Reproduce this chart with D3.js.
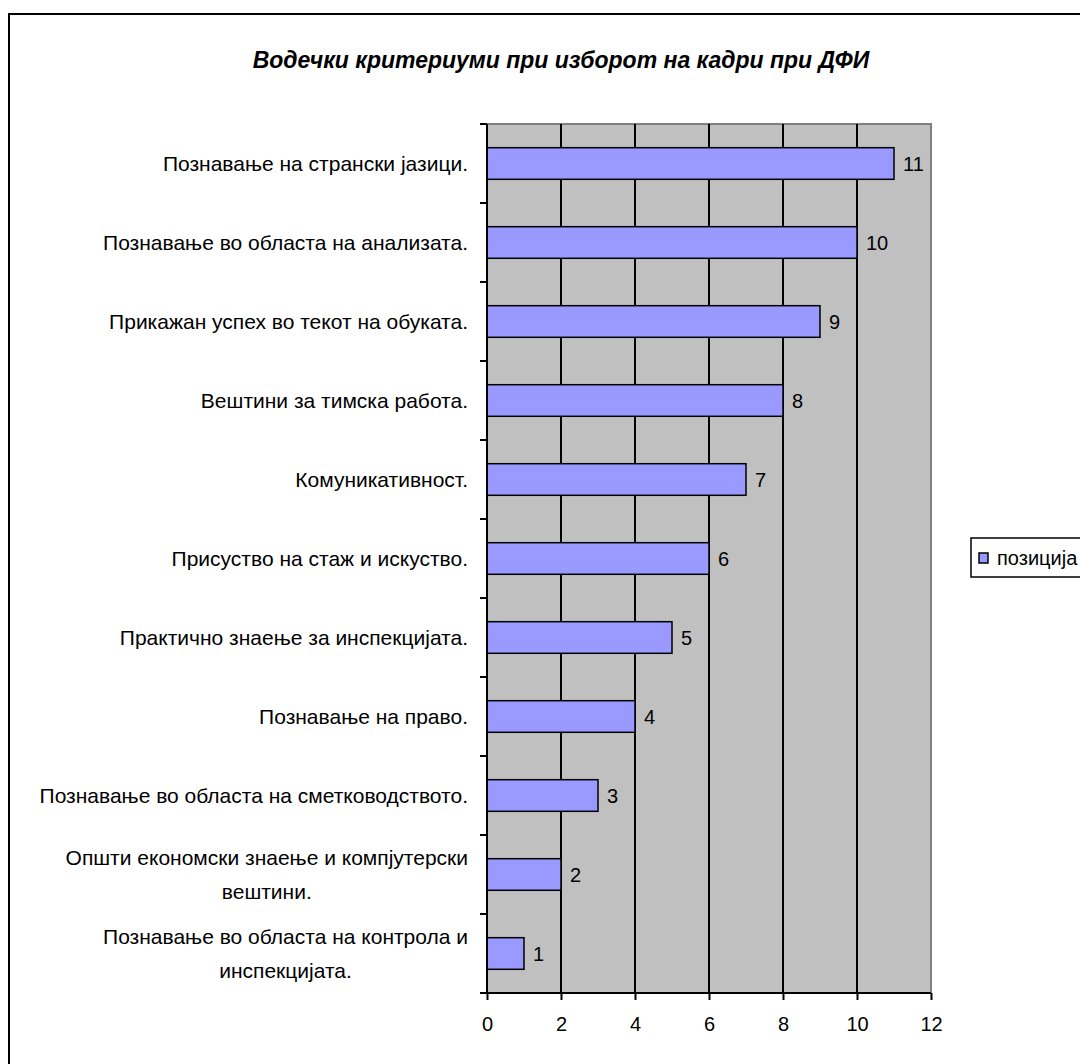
<!DOCTYPE html>
<html>
<head>
<meta charset="utf-8">
<script src="https://cdn.jsdelivr.net/npm/d3@7"></script>
<style>
  body { margin: 0; background: #fff; }
  svg { font-family: "Liberation Sans", Arial, sans-serif; }
</style>
</head>
<body>
<svg id="chart"></svg>
<script>
/** * * * * * DATA * * * * */
const categories = [
  ["Познавање на странски јазици."],
  ["Познавање во областа на анализата."],
  ["Прикажан успех во текот на обуката."],
  ["Вештини за тимска работа."],
  ["Комуникативност."],
  ["Присуство на стаж и искуство."],
  ["Практично знаење за инспекцијата."],
  ["Познавање на право."],
  ["Познавање во областа на сметководството."],
  ["Општи економски знаење и компјутерски", "вештини."],
  ["Познавање во областа на контрола и", "инспекцијата."]
];
const values = [11, 10, 9, 8, 7, 6, 5, 4, 3, 2, 1];
const xTicks = [0, 2, 4, 6, 8, 10, 12];
const seriesName = "позиција";
const title = "Водечки критериуми при изборот на кадри при ДФИ";

/** * * * * * CONSTANTS * * * * */
const width = 1080;
const height = 1064;
const plot = { left: 487, right: 931, top: 124, bottom: 993 };
const barColor = "#9999FF";

const svg = d3.select('#chart')
  .attr('width', width)
  .attr('height', height);

// outer chart border (runs past the picture edge)
svg.append('rect')
  .attr('x', 9).attr('y', 14)
  .attr('width', 1200).attr('height', 1200)
  .attr('fill', 'none')
  .attr('stroke', 'black')
  .attr('stroke-width', 2);

svg.append('text')
  .attr('x', 561)
  .attr('y', 68)
  .attr('text-anchor', 'middle')
  .style('font-size', '23px')
  .style('font-weight', 'bold')
  .style('font-style', 'italic')
  .text(title);

const keys = categories.map((c, i) => 'c' + i);

let xScale = d3.scaleLinear()
  .domain([0, 12])
  .range([plot.left, plot.right]);

let yScale = d3.scaleBand()
  .domain(keys)
  .range([plot.top, plot.bottom])
  .paddingInner(0.6)
  .paddingOuter(0.3);

// plot background
svg.append('rect')
  .attr('x', plot.left).attr('y', plot.top)
  .attr('width', plot.right - plot.left)
  .attr('height', plot.bottom - plot.top)
  .attr('fill', '#C0C0C0')
  .attr('stroke', '#808080')
  .attr('stroke-width', 2);

// vertical gridlines
svg.append('g')
  .selectAll('line')
  .data(xTicks.filter(d => d > 0 && d < 12))
  .enter()
  .append('line')
  .attr('x1', d => xScale(d)).attr('x2', d => xScale(d))
  .attr('y1', plot.top).attr('y2', plot.bottom)
  .attr('stroke', 'black')
  .attr('stroke-width', 2);

// bars
svg.append('g')
  .selectAll('rect')
  .data(values)
  .enter()
  .append('rect')
  .attr('x', xScale(0))
  .attr('y', (d, i) => yScale(keys[i]))
  .attr('width', d => xScale(d) - xScale(0))
  .attr('height', yScale.bandwidth())
  .attr('fill', barColor)
  .attr('stroke', 'black')
  .attr('stroke-width', 1.5);

// value labels
svg.append('g')
  .selectAll('text')
  .data(values)
  .enter()
  .append('text')
  .attr('x', d => xScale(d) + 9)
  .attr('y', (d, i) => yScale(keys[i]) + yScale.bandwidth() / 2)
  .attr('dy', '0.36em')
  .style('font-size', '20px')
  .text(d => d);

// x axis
const xAxis = svg.append('g')
  .attr('transform', `translate(0,${plot.bottom})`)
  .call(d3.axisBottom(xScale).tickValues(xTicks).tickSize(7).tickPadding(17));
xAxis.select('.domain').attr('stroke-width', 2).attr('d', `M${plot.left - 7},0H${plot.right}`);
xAxis.selectAll('.tick line').attr('stroke-width', 2);
xAxis.selectAll('.tick text')
  .style('font-size', '20px')
  .style('font-family', '"Liberation Sans", Arial, sans-serif')
  .attr('fill', 'black');

// y axis: ticks at the category boundaries
const step = yScale.step();
const boundaries = d3.range(keys.length + 1).map(i => plot.top + i * step);
svg.append('line')
  .attr('x1', plot.left).attr('x2', plot.left)
  .attr('y1', plot.top).attr('y2', plot.bottom)
  .attr('stroke', 'black').attr('stroke-width', 2);
svg.append('g')
  .selectAll('line')
  .data(boundaries)
  .enter()
  .append('line')
  .attr('x1', plot.left - 7).attr('x2', plot.left)
  .attr('y1', d => d).attr('y2', d => d)
  .attr('stroke', 'black').attr('stroke-width', 2);

// category labels
const labelRight = 468;
const lineGap = 34;
categories.forEach(function(lines, i) {
  let cy = yScale(keys[i]) + yScale.bandwidth() / 2;
  let g = svg.append('g');
  let texts = lines.map(function(line, j) {
    return g.append('text')
      .attr('y', cy + (j - (lines.length - 1) / 2) * lineGap)
      .attr('dy', '0.36em')
      .style('font-size', '21px')
      .text(line);
  });
  if (lines.length === 1) {
    texts[0].attr('x', labelRight).attr('text-anchor', 'end');
  } else {
    let maxW = d3.max(texts, t => t.node().getComputedTextLength());
    texts.forEach(t => t.attr('x', labelRight - maxW / 2).attr('text-anchor', 'middle'));
  }
});

// legend
const legend = svg.append('g');
legend.append('rect')
  .attr('x', 971).attr('y', 538)
  .attr('width', 200).attr('height', 39)
  .attr('fill', 'white')
  .attr('stroke', 'black')
  .attr('stroke-width', 1.5);
legend.append('rect')
  .attr('x', 979).attr('y', 553)
  .attr('width', 9).attr('height', 10)
  .attr('fill', barColor)
  .attr('stroke', 'black')
  .attr('stroke-width', 1.5);
legend.append('text')
  .attr('x', 997).attr('y', 558)
  .attr('dy', '0.36em')
  .style('font-size', '20px')
  .text(seriesName);
</script>
</body>
</html>
